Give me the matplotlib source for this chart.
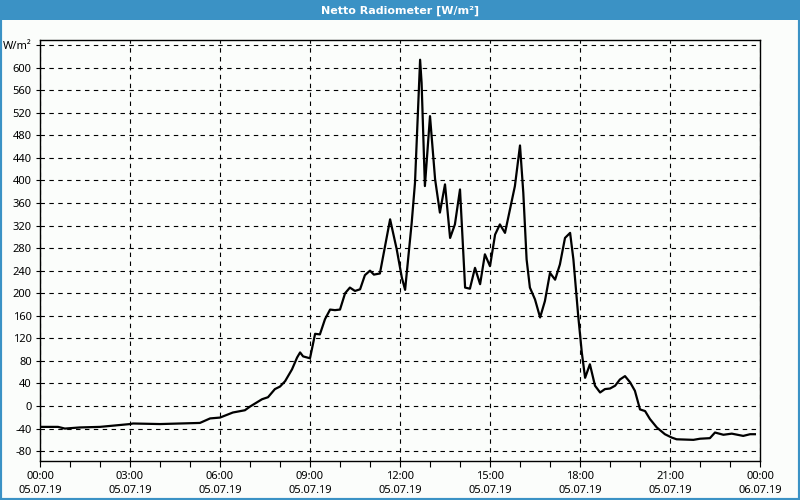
import matplotlib
matplotlib.use('Agg')
import matplotlib.pyplot as plt
from matplotlib.patches import Rectangle

# readings: hour of day (05.07.19) and net radiation in W/m²
hours = [0.0, 0.6, 0.83, 1.33, 2.0, 3.0, 3.1, 4.0, 5.33, 5.67, 6.0, 6.43, 6.83, 7.0,
         7.4, 7.6, 7.83, 8.0, 8.17, 8.4, 8.57, 8.67, 8.77, 9.0, 9.17, 9.33, 9.5, 9.67,
         9.83, 10.0, 10.17, 10.33, 10.5, 10.67, 10.83, 11.0, 11.13, 11.33, 11.67, 11.89,
         12.06, 12.17, 12.39, 12.5, 12.67, 12.72, 12.83, 13.0, 13.17, 13.33, 13.5, 13.67,
         13.83, 14.0, 14.17, 14.33, 14.5, 14.67, 14.83, 15.0, 15.17, 15.33, 15.5, 15.83,
         16.0, 16.11, 16.22, 16.33, 16.5, 16.67, 16.83, 17.0, 17.17, 17.33, 17.5, 17.67,
         17.78, 17.94, 18.06, 18.17, 18.33, 18.5, 18.67, 18.83, 19.0, 19.17, 19.33, 19.5,
         19.67, 19.83, 20.0, 20.17, 20.33, 20.56, 20.83, 21.06, 21.22, 21.78, 22.0, 22.33,
         22.5, 22.78, 23.06, 23.44, 23.67, 23.83]
values = [-37, -37, -40, -38, -37, -32, -31, -32, -30, -22, -20.5, -11.5, -7.5, -1,
          12, 15.6, 30, 34.5, 44, 65, 86, 95, 88, 84.6, 128, 127, 154, 171,
          170, 171, 200, 210, 204, 207, 232, 240, 233, 235, 331, 278,
          228, 206, 325, 396, 614, 573, 390, 514, 402, 343, 393, 298,
          322, 384, 210, 208, 245, 216, 269, 248, 304, 322, 307, 390,
          462, 378, 260, 210, 189, 157, 186, 236, 224, 251, 298, 307,
          260, 160, 95, 50, 74, 36, 24, 30, 31, 36, 47, 53,
          42, 27, -6, -9, -23, -38, -50, -56, -59, -60, -58, -57,
          -47, -51, -49, -53, -50, -50]

x_ticks = [0, 3, 6, 9, 12, 15, 18, 21, 24]
x_labels = ['00:00\n05.07.19', '03:00\n05.07.19', '06:00\n05.07.19', '09:00\n05.07.19',
            '12:00\n05.07.19', '15:00\n05.07.19', '18:00\n05.07.19', '21:00\n05.07.19',
            '00:00\n06.07.19']
y_ticks = list(range(-80, 641, 40))
y_labels = [str(v) for v in y_ticks[:-1]] + ['W/m²']

title = 'Netto Radiometer [W/m²]'
blue = '#3b92c5'

plt.rcParams['font.family'] = ['Noto Sans', 'DejaVu Sans']

fig = plt.figure(figsize=(8, 5), dpi=100)
fig.patch.set_facecolor('#fbfdfb')

# window frame + title bar
fig.patches.append(Rectangle((0, 0), 1, 1, transform=fig.transFigure, fill=False,
                             edgecolor=blue, linewidth=3, zorder=0))
fig.patches.append(Rectangle((0, 0.96), 1, 0.04, transform=fig.transFigure,
                             facecolor=blue, edgecolor='none', zorder=0))
fig.text(0.5, 0.979, title, color='white', fontsize=8, fontweight='bold',
         family=['DejaVu Sans'], ha='center', va='center')

ax = fig.add_axes([0.05, 0.078, 0.90, 0.842])
ax.set_facecolor('#fbfdfb')
ax.plot(hours, values, color='black', linewidth=1.6, zorder=3)

ax.set_xlim(0, 24)
ax.set_ylim(-97.5, 649)
ax.set_xticks(x_ticks)
ax.set_xticklabels(x_labels, fontsize=8, linespacing=1.45)
ax.set_xticks(range(0, 25), minor=True)
ax.set_yticks(y_ticks)
ax.set_yticklabels(y_labels, fontsize=8)

ax.tick_params(axis='x', which='both', direction='out', length=4, width=0.8, pad=3)
ax.tick_params(axis='y', direction='out', length=3, width=0.8, pad=3)

ax.grid(True, which='major', color='black', linewidth=0.8, linestyle=(0, (4, 4)))
for s in ax.spines.values():
    s.set_linewidth(1.0)

plt.savefig('out.png', dpi=100, facecolor=fig.get_facecolor())
